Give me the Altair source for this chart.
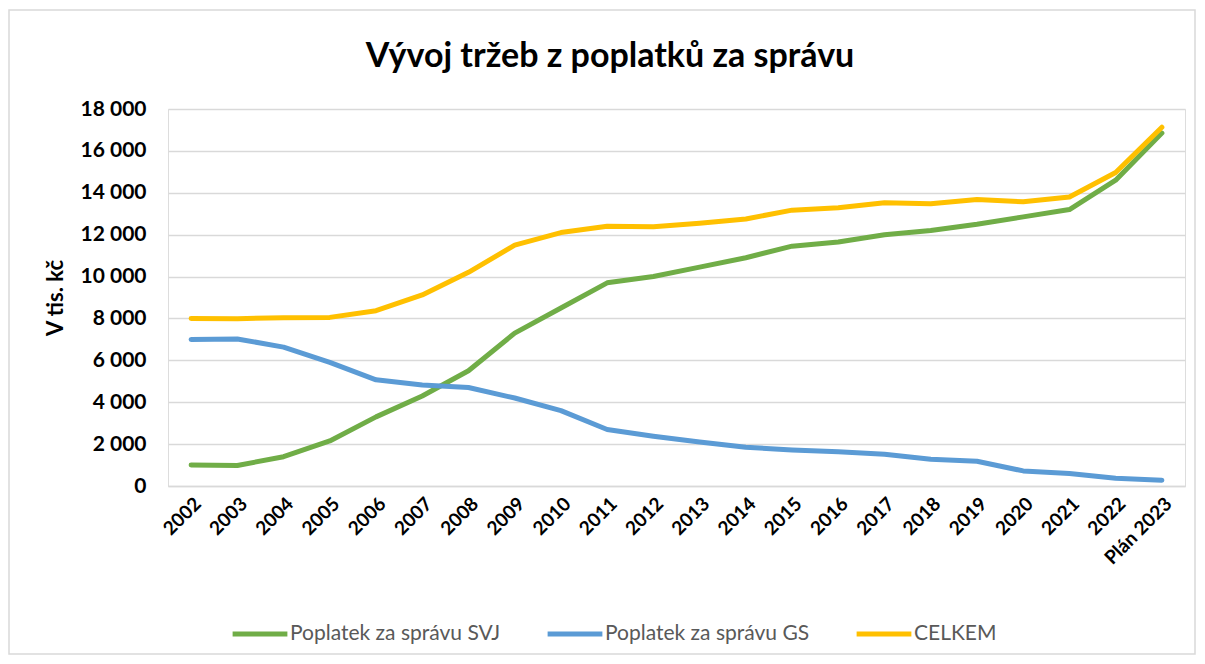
import altair as alt
import pandas as pd

years = ["2002", "2003", "2004", "2005", "2006", "2007", "2008", "2009", "2010", "2011",
         "2012", "2013", "2014", "2015", "2016", "2017", "2018", "2019", "2020", "2021",
         "2022", "Plán 2023"]
svj = [1000, 980, 1400, 2150, 3300, 4300, 5500, 7300, 8500, 9700,
       10000, 10450, 10900, 11450, 11650, 12000, 12200, 12500, 12850, 13200,
       14600, 16850]
gs = [7000, 7020, 6630, 5900, 5070, 4820, 4700, 4200, 3600, 2700,
      2380, 2100, 1850, 1720, 1630, 1520, 1280, 1180, 720, 600,
      370, 280]
celkem = [8000, 7990, 8030, 8050, 8370, 9120, 10200, 11500, 12100, 12400,
          12380, 12550, 12750, 13170, 13280, 13520, 13480, 13680, 13570, 13800,
          14970, 17130]

series_names = ["Poplatek za správu SVJ", "Poplatek za správu GS", "CELKEM"]
series_colors = ["#70AD47", "#5B9BD5", "#FFC000"]
title_text = "Vývoj tržeb z poplatků za správu"

rows = []
for name, vals in zip(series_names, [svj, gs, celkem]):
    for y, v in zip(years, vals):
        rows.append({"rok": y, "hodnota": v, "serie": name})
df = pd.DataFrame(rows)

FONT = "Lato"

color = alt.Color(
    "serie:N",
    scale=alt.Scale(domain=series_names, range=series_colors),
    legend=alt.Legend(
        title=None,
        orient="none",
        legendX=62,
        legendY=495,
        direction="horizontal",
        symbolType="stroke",
        symbolSize=3000,
        symbolStrokeWidth=5,
        labelFont=FONT,
        labelFontSize=21,
        labelColor="#595959",
        labelOffset=0,
        columnPadding=36,
        labelLimit=400,
    ),
)

x = alt.X(
    "rok:N",
    sort=years,
    title=None,
    scale=alt.Scale(paddingInner=1, paddingOuter=0.5),
    axis=alt.Axis(
        labelAngle=-45,
        labelFont=FONT,
        labelFontSize=19,
        labelFontWeight="bold",
        labelColor="#000000",
        labelPadding=8,
        ticks=False,
        domainColor="#D9D9D9",
        domainWidth=1.5,
        grid=False,
    ),
)
y = alt.Y(
    "hodnota:Q",
    title="V tis. kč",
    scale=alt.Scale(domain=[0, 18000], nice=False),
    axis=alt.Axis(
        values=list(range(0, 18001, 2000)),
        labelExpr="replace(format(datum.value, ','), ',', ' ')",
        labelFont=FONT,
        labelFontSize=21,
        labelFontWeight="bold",
        labelColor="#000000",
        labelPadding=22,
        ticks=False,
        tickSize=0,
        domain=False,
        gridColor="#D9D9D9",
        gridWidth=1.5,
        titleFont=FONT,
        titleFontSize=22,
        titleFontWeight="bold",
        titleColor="#000000",
        titlePadding=12,
    ),
)

frame = alt.Chart(pd.DataFrame({"k": [0]})).mark_rect(
    fill=None, stroke="#D9D9D9", strokeWidth=1.5
).encode(
    x=alt.value(-159), x2=alt.value(1027), y=alt.value(-99), y2=alt.value(545)
)

title = alt.Chart(pd.DataFrame({"t": [title_text]})).mark_text(
    font=FONT, fontSize=34, fontWeight="bold", color="#000000",
    align="center", baseline="middle"
).encode(
    text="t:N", x=alt.value(442), y=alt.value(-52)
)

layers = [frame, title]
for name in series_names:
    layers.append(
        alt.Chart(df)
        .transform_filter(alt.datum.serie == name)
        .mark_line(strokeWidth=5, strokeCap="round", strokeJoin="round")
        .encode(x=x, y=y, color=color)
    )

chart = alt.layer(*layers).properties(
    width=1017,
    height=377,
    autosize=alt.AutoSizeParams(type="none"),
    padding={"left": 160, "top": 101, "right": 12, "bottom": 170},
).configure_view(stroke=None).configure(background="white")

chart.save("out.html", embed_options={"renderer": "svg", "actions": False})
